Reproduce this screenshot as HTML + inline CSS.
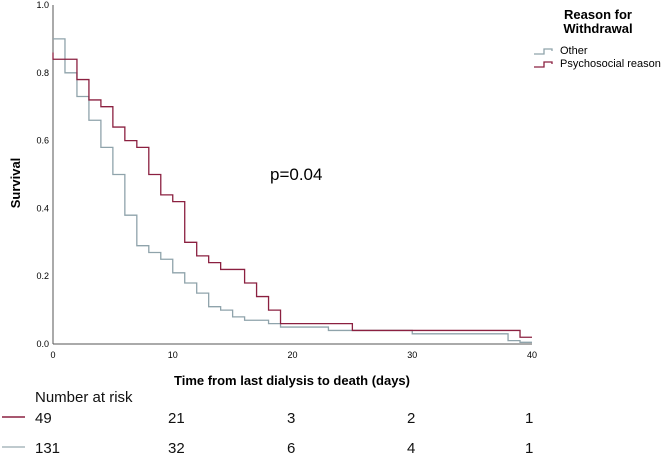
<!DOCTYPE html>
<html><head><meta charset="utf-8"><style>
body{margin:0;background:#fff;}
svg{display:block;font-family:"Liberation Sans",sans-serif;}
.risk{font-family:"Liberation Sans Narrow","Liberation Sans",sans-serif;font-size:15px;fill:#111;}
</style></head><body>
<svg id="chart" width="664" height="457" viewBox="0 0 664 457">
<g id="axes"></g>
<g id="series"></g>
<text x="12" y="175" transform="rotate(-90 20 175)" font-size="13" font-weight="bold" text-anchor="middle">Survival</text>
<text x="292" y="385" font-size="13" font-weight="bold" text-anchor="middle">Time from last dialysis to death (days)</text>
<text x="270" y="180" font-size="17">p=0.04</text>
<g>
<text x="598" y="19" font-size="13" font-weight="bold" text-anchor="middle">Reason for</text>
<text x="598" y="33" font-size="13" font-weight="bold" text-anchor="middle">Withdrawal</text>
<path d="M534 54 H544 V49 H552 V51" fill="none" stroke="#8fa3ab" stroke-width="1.3"/>
<text x="560" y="54" font-size="11">Other</text>
<path d="M534 67 H544 V62 H552 V64" fill="none" stroke="#8b2040" stroke-width="1.3"/>
<text x="560" y="67" font-size="11">Psychosocial reason</text>
</g>
<text class="risk" x="35" y="402">Number at risk</text>
<line x1="2" y1="417" x2="25" y2="417" stroke="#8b2040" stroke-width="1.5"/>
<line x1="2" y1="447" x2="25" y2="447" stroke="#aab8bd" stroke-width="1.5"/>
<g id="risk"></g>
</svg>
<script>
const psyT=[0,0,2,3,4,5,6,7,8,9,10,11,12,13,14,16,17,18,19,25,39];
const psyS=[0.86,0.84,0.78,0.72,0.70,0.64,0.60,0.58,0.50,0.44,0.42,0.30,0.26,0.24,0.22,0.18,0.14,0.10,0.06,0.04,0.02];
const othT=[0,1,2,3,4,5,6,7,8,9,10,11,12,13,14,15,16,18,19,23,30,38,39];
const othS=[0.90,0.80,0.73,0.66,0.58,0.50,0.38,0.29,0.27,0.25,0.21,0.18,0.15,0.11,0.10,0.08,0.07,0.06,0.05,0.04,0.03,0.01,0.005];
const xTicks=[0,10,20,30,40];
const yTicks=[0,0.2,0.4,0.6,0.8,1.0];
const riskPsy=["49","21","3","2","1"];
const riskOth=["131","32","6","4","1"];
const tMax=40;
const X=t=>53+t*(532-53)/40;
const Y=s=>344-s*(344-5);
const NS="http://www.w3.org/2000/svg";
function mk(tag,at,parent){const e=document.createElementNS(NS,tag);for(const k in at)e.setAttribute(k,at[k]);parent.appendChild(e);return e;}
const axes=document.getElementById('axes');
const ya=mk('line',{x1:X(0),y1:Y(1),x2:X(0),y2:Y(0),stroke:'#555','stroke-width':1},axes);


const xa=mk('line',{x1:X(0),y1:Y(0),x2:X(40),y2:Y(0),stroke:'#555','stroke-width':1},axes);


xTicks.forEach(t=>{const e=mk('text',{x:X(t),y:Y(0)+14,'font-size':9,'text-anchor':'middle'},axes);e.textContent=t;

});
yTicks.forEach(s=>{const e=mk('text',{x:X(0)-4,y:Y(s)+3,'font-size':9,'text-anchor':'end'},axes);e.textContent=s.toFixed(1);

});
function step(T,S){let d='M'+X(T[0])+' '+Y(S[0]);for(let i=1;i<T.length;i++){d+=' H'+X(T[i])+' V'+Y(S[i]);}d+=' H'+X(tMax);return d;}
const ser=document.getElementById('series');
const po=mk('path',{d:step(othT,othS),fill:'none',stroke:'#8fa3ab','stroke-width':1.3},ser);


const pp=mk('path',{d:step(psyT,psyS),fill:'none',stroke:'#8b2040','stroke-width':1.3},ser);


const risk=document.getElementById('risk');
const rx=[35,168,287,407,525];
riskPsy.forEach((v,i)=>{const e=mk('text',{x:rx[i],y:423,class:'risk'},risk);e.textContent=v;

});
riskOth.forEach((v,i)=>{const e=mk('text',{x:rx[i],y:453,class:'risk'},risk);e.textContent=v;

});
</script>
</body></html>
